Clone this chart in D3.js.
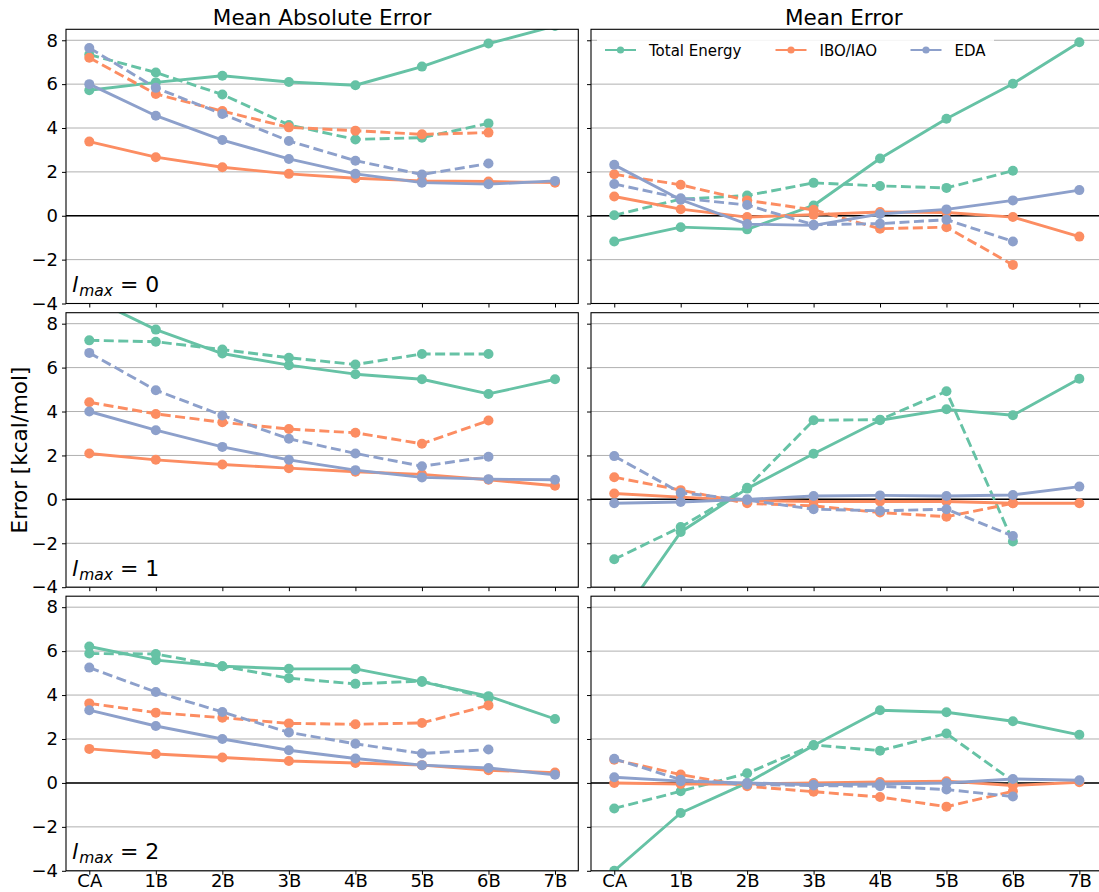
<!DOCTYPE html>
<html>
<head>
<meta charset="utf-8">
<script src="https://cdn.jsdelivr.net/npm/d3@7"></script>
<style>
  html, body { margin: 0; padding: 0; background: #fff; }
  svg { display: block; font-family: "DejaVu Sans", sans-serif; }
</style>
</head>
<body>
<script>
// ---------------- DATA ----------------
const categories = ["CA", "1B", "2B", "3B", "4B", "5B", "6B", "7B"];
const yTicks = [-4, -2, 0, 2, 4, 6, 8];
const methods = ["Total Energy", "IBO/IAO", "EDA"];
const columnTitles = ["Mean Absolute Error", "Mean Error"];
const rowLabels = ["0", "1", "2"];

// each panel: [TE solid, TE dashed, IBO solid, IBO dashed, EDA solid, EDA dashed]
const mae0 = [
  [5.72, 6.08, 6.38, 6.10, 5.95, 6.80, 7.85, 8.65],
  [7.35, 6.53, 5.53, 4.14, 3.48, 3.56, 4.21],
  [3.38, 2.67, 2.21, 1.91, 1.71, 1.59, 1.56, 1.51],
  [7.20, 5.55, 4.77, 4.03, 3.88, 3.71, 3.79],
  [6.00, 4.56, 3.45, 2.59, 1.91, 1.51, 1.44, 1.59],
  [7.65, 5.83, 4.64, 3.41, 2.51, 1.88, 2.38]
];
const me0 = [
  [-1.17, -0.52, -0.62, 0.47, 2.61, 4.42, 6.02, 7.91],
  [0.02, 0.76, 0.92, 1.50, 1.36, 1.27, 2.05],
  [0.88, 0.30, -0.06, 0.05, 0.17, 0.15, -0.06, -0.95],
  [1.89, 1.41, 0.70, 0.27, -0.59, -0.52, -2.24],
  [2.32, 0.73, -0.38, -0.44, 0.08, 0.29, 0.70, 1.17],
  [1.45, 0.80, 0.49, -0.41, -0.36, -0.18, -1.17]
];
const mae1 = [
  [9.20, 7.73, 6.64, 6.11, 5.70, 5.47, 4.80, 5.47],
  [7.24, 7.18, 6.82, 6.45, 6.14, 6.62, 6.62],
  [2.09, 1.80, 1.59, 1.42, 1.26, 1.14, 0.89, 0.62],
  [4.42, 3.89, 3.51, 3.20, 3.03, 2.53, 3.59],
  [4.00, 3.15, 2.39, 1.80, 1.33, 1.00, 0.92, 0.89],
  [6.67, 4.97, 3.82, 2.76, 2.09, 1.51, 1.94]
];
const me1 = [
  [-5.80, -1.49, 0.49, 2.08, 3.60, 4.10, 3.83, 5.49],
  [-2.73, -1.26, 0.53, 3.60, 3.63, 4.92, -1.92],
  [0.27, 0.10, -0.05, -0.10, -0.10, -0.10, -0.18, -0.18],
  [1.01, 0.42, -0.18, -0.30, -0.60, -0.79, -0.18],
  [-0.18, -0.12, 0.00, 0.15, 0.18, 0.15, 0.20, 0.58],
  [1.97, 0.30, -0.03, -0.45, -0.52, -0.45, -1.67]
];
const mae2 = [
  [6.21, 5.59, 5.31, 5.20, 5.19, 4.60, 3.95, 2.91],
  [5.89, 5.87, 5.31, 4.77, 4.51, 4.64, 3.85],
  [1.55, 1.32, 1.16, 1.00, 0.91, 0.81, 0.58, 0.47],
  [3.62, 3.20, 2.97, 2.71, 2.67, 2.73, 3.53],
  [3.31, 2.59, 2.00, 1.49, 1.11, 0.81, 0.68, 0.37],
  [5.25, 4.14, 3.23, 2.30, 1.78, 1.34, 1.52]
];
const me2 = [
  [-4.00, -1.37, 0.00, 1.70, 3.31, 3.22, 2.81, 2.19],
  [-1.16, -0.38, 0.44, 1.73, 1.47, 2.25, 0.08],
  [0.00, -0.05, -0.05, 0.00, 0.04, 0.08, -0.12, 0.03],
  [1.06, 0.38, -0.15, -0.40, -0.64, -1.08, -0.38],
  [0.26, 0.08, 0.00, -0.08, -0.05, 0.00, 0.18, 0.12],
  [1.10, 0.15, -0.07, -0.12, -0.15, -0.30, -0.62]
];
const panels = [[mae0, me0], [mae1, me1], [mae2, me2]];

// ---------------- STYLE ----------------
const colors = ["#66c2a5", "#fc8d62", "#8da0cb"];
const W = 1099, H = 892;
const colX = [[66, 578.3], [591, 1102.6]];
const rowY = [[29.3, 303.5], [312.7, 587.2], [596.2, 870.8]];

const svg = d3.select("body").append("svg").attr("width", W).attr("height", H);

panels.forEach((row, r) => {
  row.forEach((series, c) => {
    const [x0, x1] = colX[c];
    const [yt, yb] = rowY[r];
    const x = d3.scaleLinear().domain([-0.35, 7.35]).range([x0, x1]);
    const y = d3.scaleLinear().domain([-4, 8.5]).range([yb, yt]);
    const g = svg.append("g");
    const cid = `clip-${r}-${c}`;
    g.append("clipPath").attr("id", cid).append("rect")
      .attr("x", x0).attr("y", yt).attr("width", x1 - x0).attr("height", yb - yt);

    // grid
    g.selectAll("line.grid").data(yTicks).join("line")
      .attr("x1", x0).attr("x2", x1)
      .attr("y1", d => y(d)).attr("y2", d => y(d))
      .attr("stroke", "#b0b0b0").attr("stroke-width", 1);
    // zero line
    g.append("line").attr("x1", x0).attr("x2", x1)
      .attr("y1", y(0)).attr("y2", y(0))
      .attr("stroke", "#000").attr("stroke-width", 1.5);

    // series
    const plot = g.append("g").attr("clip-path", `url(#${cid})`);
    const line = d3.line().x((d, i) => x(i)).y(d => y(d));
    series.forEach((vals, k) => {
      const col = colors[Math.floor(k / 2)];
      const dashed = k % 2 === 1;
      plot.append("path").datum(vals)
        .attr("d", line)
        .attr("fill", "none")
        .attr("stroke", col)
        .attr("stroke-width", 2.9)
        .attr("stroke-dasharray", dashed ? "10,4.5" : null)
        .attr("stroke-linejoin", "round");
      plot.selectAll(null).data(vals).join("circle")
        .attr("cx", (d, i) => x(i)).attr("cy", d => y(d))
        .attr("r", 5).attr("fill", col);
    });

    // spines
    g.append("rect").attr("x", x0).attr("y", yt)
      .attr("width", x1 - x0).attr("height", yb - yt)
      .attr("fill", "none").attr("stroke", "#000").attr("stroke-width", 1.1);

    // axes
    const xAxis = d3.axisBottom(x).tickValues(d3.range(categories.length))
      .tickFormat(r === 2 ? (i => categories[i]) : (() => ""))
      .tickSize(4).tickSizeOuter(0).tickPadding(-0.5);
    const xa = g.append("g").attr("transform", `translate(0,${yb})`).call(xAxis);
    const yAxis = d3.axisLeft(y).tickValues(yTicks)
      .tickFormat(c === 0 ? (d => d < 0 ? "\u2212" + Math.abs(d) : String(d)) : (() => ""))
      .tickSize(4).tickSizeOuter(0).tickPadding(4);
    const ya = g.append("g").attr("transform", `translate(${x0},0)`).call(yAxis);
    [xa, ya].forEach(a => {
      a.select(".domain").remove();
      a.selectAll(".tick line").attr("stroke", "#000").attr("stroke-width", 1);
      a.selectAll(".tick text").attr("fill", "#000")
        .style("font-size", "18px").style("font-family", "DejaVu Sans");
    });

    // lmax annotation
    if (c === 0) {
      const t = g.append("text").attr("x", x0 + 6).attr("y", yb - 11.5)
        .style("font-size", "22px").attr("fill", "#000");
      t.append("tspan").attr("font-style", "italic").text("l");
      t.append("tspan").attr("font-style", "italic").attr("font-size", "15.5px")
        .attr("dy", 4).attr("dx", 1).text("max");
      t.append("tspan").attr("dy", -4).text(" = " + rowLabels[r]);
    }

    // titles
    if (r === 0) {
      g.append("text").attr("x", c === 0 ? (x0 + x1) / 2 : (x0 + x1) / 2 - 3)
        .attr("y", 25).attr("text-anchor", "middle")
        .style("font-size", "21.5px").attr("fill", "#000").text(columnTitles[c]);
    }

    // legend
    if (r === 0 && c === 1) {
      const lg = g.append("g");
      lg.append("rect").attr("x", 597).attr("y", 33).attr("width", 397).attr("height", 34)
        .attr("fill", "#fff").attr("opacity", 0.85);
      const lx = [605, 775.5, 910.5];
      methods.forEach((m, k) => {
        const ly = 50;
        lg.append("line").attr("x1", lx[k]).attr("x2", lx[k] + 31)
          .attr("y1", ly).attr("y2", ly)
          .attr("stroke", colors[k]).attr("stroke-width", 2);
        lg.append("circle").attr("cx", lx[k] + 15.5).attr("cy", ly).attr("r", 3.6)
          .attr("fill", colors[k]);
        lg.append("text").attr("x", lx[k] + 44).attr("y", ly + 5.5)
          .style("font-size", "15px").attr("fill", "#000").text(m);
      });
    }
  });
});

// y label
svg.append("text").attr("transform", "translate(27,450) rotate(-90)")
  .attr("text-anchor", "middle").style("font-size", "21.5px").attr("fill", "#000")
  .text("Error [kcal/mol]");
</script>
</body>
</html>
